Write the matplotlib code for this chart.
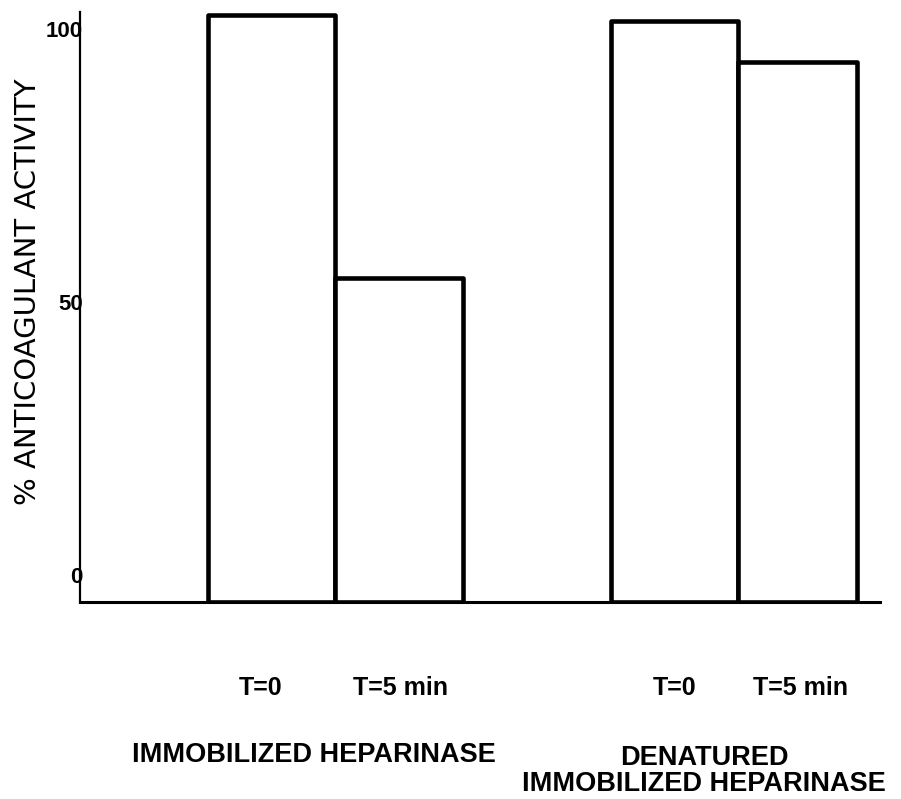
import numpy as np
import matplotlib
matplotlib.use('Agg')
from matplotlib import pyplot as plt

plt.rcParams['font.family'] = ['Liberation Sans', 'DejaVu Sans']

# 数据
bar_labels = ['T=0', 'T=5 min', 'T=0', 'T=5 min']
activity = [102.6, 54.4, 101.4, 94.0]
group_labels = ['IMMOBILIZED HEPARINASE', 'DENATURED\nIMMOBILIZED HEPARINASE']
ytick_vals = [0, 50, 100]

# 柱子位置和宽度 (单位: 130像素)
xpos = np.array([1.473, 2.454, 4.573, 5.519])
widths = [0.977, 0.985, 0.977, 0.915]
y0 = -4.9

fig = plt.figure(figsize=(9.01, 7.99), dpi=100)
ax = fig.add_axes([80 / 901, (799 - 602) / 799, 800 / 901, (602 - 12) / 799])

heights = [v - y0 for v in activity]
ax.bar(xpos, heights, width=widths, bottom=y0, color='white',
       edgecolor='black', linewidth=3.3, joinstyle='round', zorder=2)

ax.set_xlim(0, 800 / 130)
ax.set_ylim(y0, 103.1)

# 只保留左边和下边的轴线
for s in ['top', 'right']:
    ax.spines[s].set_visible(False)
ax.spines['left'].set_linewidth(1.6)
ax.spines['bottom'].set_linewidth(2.2)
ax.spines['bottom'].set_zorder(3)

ax.set_yticks(ytick_vals)
ax.set_yticklabels([str(v) for v in ytick_vals], fontsize=16, fontweight='bold')
ax.tick_params(axis='y', length=0, pad=-2)

ax.set_xticks(xpos + np.array([-0.085, 0.015, 0.0, 0.027]))
ax.set_xticklabels(bar_labels, fontsize=18, fontweight='bold')
ax.tick_params(axis='x', length=0, pad=53)

ax.set_ylabel('% ANTICOAGULANT ACTIVITY', fontsize=21, family='DejaVu Sans')
ax.yaxis.set_label_coords((42 - 80) / 800, (602 - 292) / 590)

# 组标签
ax.text((314 - 80) / 130, (602 - 755) / 590, group_labels[0],
        transform=ax.get_xaxis_transform(),
        ha='center', va='center', fontsize=19.5, fontweight='bold')
ax.text((704 - 80) / 130, (602 - 771) / 590, group_labels[1],
        transform=ax.get_xaxis_transform(), multialignment='center',
        ha='center', va='center', fontsize=19.5, fontweight='bold',
        linespacing=1.0)

plt.savefig('out.png', dpi=100)
